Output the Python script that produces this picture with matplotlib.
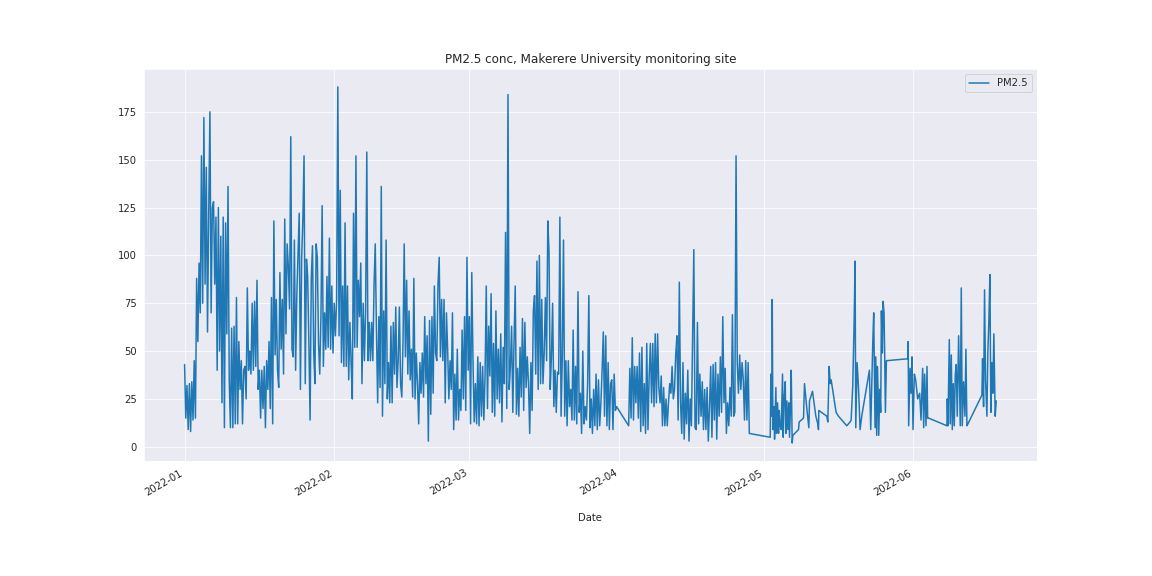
"""PM2.5 time series, Makerere University monitoring site (Jan-Jun 2022)."""

import pandas as pd
import matplotlib
matplotlib.use("Agg")
import matplotlib.pyplot as plt
import seaborn as sns

# --- data ----------------------------------------------------------------
# Jan 1 - Mar 31, 6-hourly readings
JAN_START = "2022-01-01 00:00"
jan_mar_pm = [
    43, 15, 32, 9,  33, 8, 34, 14,  45, 15, 88, 55,  96, 70, 152, 75,
    172, 85, 146, 60,  122, 175, 70, 125,  128, 85, 120, 40,  125, 50, 110, 23,
    120, 10, 117, 59,  136, 35, 10, 62,  10, 63, 12, 78,  12, 55, 30, 45,
    12, 40, 42, 25,  83, 40, 50, 38,  75, 40, 76, 42,  87, 30, 40, 15,
    40, 20, 42, 10,  45, 30, 55, 20,  78, 12, 118, 48,  77, 40,
    31, 91, 51, 77,  38, 119, 59, 106,  94, 72, 162, 51,  47, 108, 40, 79,
    101, 122, 30, 98,  118, 152, 33, 98,  89, 54, 14, 88,  105, 49, 33, 106,
    99, 54, 38, 68,  126, 42, 70, 51,  89, 52, 109, 51,  84, 49, 75, 58,
    77, 188, 58, 134,  44, 84, 42, 117,  42, 84, 35, 65,  44, 25, 122, 52,
    152, 52, 87, 68,  96, 33, 75, 45,  70, 154, 45, 65,
    45, 65, 45, 84,  106, 61, 23, 68,  31, 136, 16, 71,  33, 108, 25, 44,
    23, 63, 23, 65,  38, 73, 31, 45,  73, 33, 26, 54,  106, 47, 87, 38,
    71, 35, 51, 26,  88, 25, 49, 33,  12, 44, 28, 49,  26, 68, 33, 58,
    3, 66, 17, 68,  28, 84, 49, 45,  85, 99, 47, 77,  45, 77, 23, 70,
    51, 25, 45, 30,  70, 9, 38, 14,  51, 14, 30, 19,  61, 25, 68, 19,
    99, 40, 68, 12,  91, 45, 13, 33,  12, 47, 11, 44,  16, 42, 14, 37,
    84, 20, 63, 37,  80, 18, 54, 16,  71, 25, 51, 23,  59, 13, 52, 33,
    112, 20, 184, 30,  42, 63, 18, 54,  84, 17, 41, 16,  52, 26, 67, 19,
    65, 31, 47, 33,  7, 44, 19, 71,  79, 38, 97, 30,  100, 33, 77, 33,
    49, 78, 45, 118,  102, 30, 47, 75,  21, 40, 18, 39,  38, 120, 16, 47,
    108, 16, 45, 11,  45, 21, 30, 14,  61, 14, 42, 12,  81, 18, 28, 7,
    50, 12, 21, 14,  33, 79, 10, 25,  7, 30, 11, 38,  9, 35, 11, 23,
    40, 60, 16, 58,  11, 44, 9, 33,  35, 9, 38, 19,  21,
]

# Apr 3 - Apr 28, 6-hourly readings
APR_START = "2022-04-03 00:00"
apr_pm = [
    11, 41, 15, 57,  14, 42, 23, 42,  15, 49, 8, 52,  11, 33, 7, 54,
    9, 37, 54, 23,  54, 21, 59, 23,  59, 31, 23, 37,  11, 31, 11, 25,
    11, 23, 33, 28,  42, 25, 30, 48,  58, 14, 86, 23,  7, 44, 4, 28,
    12, 40, 3, 25,  11, 58, 103, 10,  9, 65, 12, 38,  16, 34, 9, 30,
    9, 31, 3, 21,  42, 5, 43, 14,  44, 4, 38, 16,  47, 18, 68, 23,
    41, 7, 23, 11,  31, 16, 69, 16,  18, 152, 44, 28,  48, 30, 44, 35,
    14, 45, 14, 44,  7,
]

# May - June, irregular readings (days since 2022-01-01)
may_jun_day = [
    121.33, 121.47, 121.68, 121.75, 121.88, 122.09, 122.23, 122.50, 122.64,
    122.85, 123.06, 123.19, 123.40, 123.61, 123.88, 124.02, 124.23, 124.44,
    124.57, 124.78, 124.99, 125.19, 125.33, 125.54, 125.68, 125.88, 126.02,
    127.19, 127.33, 128.23, 128.43, 128.99, 129.33, 129.47, 130.09, 130.78,
    131.19, 131.33, 131.40, 133.05, 133.26, 133.54, 133.74, 133.95, 134.98,
    135.47, 137.19, 137.88, 138.09, 138.43, 138.71, 138.91, 139.05, 139.33,
    139.60, 139.95, 140.29, 141.88, 142.15, 142.57, 142.77, 143.05, 143.19,
    143.39, 143.53, 143.67, 143.81, 144.02, 144.22, 144.36, 144.57, 144.71,
    144.91, 145.05, 145.19, 145.40, 149.88, 149.91, 150.01, 150.29, 150.50,
    150.70, 150.91, 151.19, 151.46, 151.88, 152.29, 152.57, 152.91, 153.12,
    153.32, 153.60, 153.81, 153.94, 154.15, 157.94, 158.01, 158.15, 158.43,
    158.63, 158.84, 159.05, 159.25, 159.46, 159.67, 159.87, 160.08, 160.36,
    160.70, 160.91, 161.11, 161.39, 161.67, 161.87, 162.08, 162.29, 165.18,
    165.32, 165.53, 165.73, 165.94, 166.22, 166.42, 166.63, 166.84, 167.04,
    167.25, 167.45, 167.66, 167.94, 168.15,
]
may_jun_pm = [
    5, 38, 16, 77, 9, 21, 4, 31, 7,
    23, 7, 19, 11, 9, 38, 5, 26, 34,
    7, 24, 9, 23, 5, 22, 40, 2, 6,
    9, 13, 15, 33, 18, 10, 24, 29, 16,
    12, 9, 19, 16, 13, 42, 33, 35, 18,
    16, 11, 13, 14, 32, 65, 97, 10, 44,
    32, 9, 16, 40, 9, 54, 70, 10, 47,
    6, 42, 30, 6, 30, 18, 71, 49, 76,
    70, 47, 18, 45, 46, 55, 11, 41, 28,
    47, 9, 38, 35, 25, 28, 14, 41, 10,
    38, 11, 42, 15, 15, 11, 25, 11, 56,
    12, 48, 9, 33, 11, 38, 43, 16, 58,
    11, 83, 11, 34, 16, 51, 11, 12, 27,
    46, 21, 82, 35, 16, 50, 66, 90, 18,
    44, 28, 59, 16, 24,
]


def main():
    t1 = pd.date_range(JAN_START, periods=len(jan_mar_pm), freq="6h")
    t2 = pd.date_range(APR_START, periods=len(apr_pm), freq="6h")
    t3 = pd.Timestamp("2022-01-01") + pd.to_timedelta(may_jun_day, unit="D")

    pm = pd.Series(jan_mar_pm + apr_pm + may_jun_pm,
                   index=t1.append(t2).append(pd.DatetimeIndex(t3)))

    sns.set_style("darkgrid")
    fig, ax = plt.subplots(figsize=(16, 8), dpi=72)
    ax.plot(pm.index, pm.values, color="#1f77b4", lw=1.5, label="PM2.5")
    ax.set_title("PM2.5 conc, Makerere University monitoring site")
    ax.set_xlabel("Date", labelpad=16)
    ax.legend(loc="upper right")
    fig.autofmt_xdate()

    fig.savefig("out.png", dpi=72)


if __name__ == "__main__":
    main()
